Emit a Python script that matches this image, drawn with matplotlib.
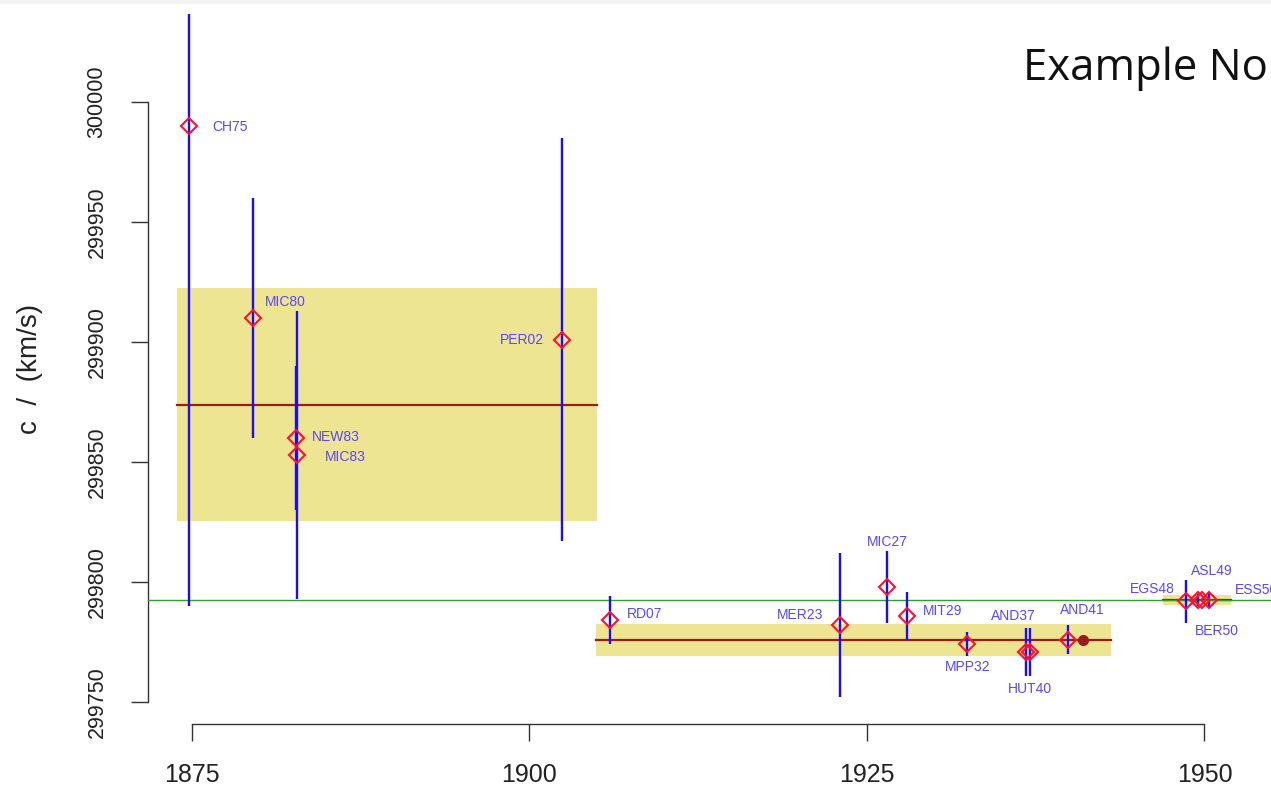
import matplotlib
matplotlib.use("Agg")
import matplotlib.pyplot as plt
import numpy as np
from matplotlib.patches import Rectangle

plt.rcParams['font.family'] = ['Liberation Sans', 'DejaVu Sans']

# ---------------- data ----------------
labels = ["CH75", "MIC80", "NEW83", "MIC83", "PER02", "RD07", "MER23", "MIC27",
          "MIT29", "MPP32", "AND37", "HUT40", "AND41", "EGS48", "ASL49", "BER50", "ESS50"]
years = [1874.8, 1879.5, 1882.7, 1882.8, 1902.4, 1906.0, 1923.0, 1926.5,
         1928.0, 1932.4, 1936.8, 1937.1, 1939.9, 1948.6, 1949.5, 1949.8, 1950.3]
speeds = [299990, 299910, 299860, 299853, 299901, 299784, 299782, 299798,
          299786, 299774, 299771, 299771, 299776, 299792, 299792.4, 299792.7, 299792.5]
errors = [200, 50, 30, 60, 84, 10, 30, 15, 10, 5, 10, 10, 6, 9, 2.4, 0.25, 3]

band_start = [1873.9, 1904.9, 1946.9]
band_end = [1905.0, 1943.1, 1952.0]
band_low = [299825.4, 299769.3, 299790.6]
band_high = [299922.5, 299782.4, 299794.6]
band_mean = [299873.75, 299775.8, 299792.5]

highlight_year = [1941.0]
highlight_speed = [299775.8]

c_true = 299792.458

xticks = [1875, 1900, 1925, 1950]
yticks = [299750, 299800, 299850, 299900, 299950, 300000]

# ---------------- style / layout ----------------
label_offsets = [(41, -1), (33, 16), (40, 1), (48, -2), (-40, 0), (34, 6), (-40, 10),
                 (0, 45), (35, 5), (1, -23), (-13, 36), (0, -37), (14, 30),
                 (-33, 12), (14, 29), (15, -31), (48, 10)]

W, H = 1271, 789
fig = plt.figure(figsize=(W / 100, H / 100), dpi=100)
ax = fig.add_axes([148 / W, 65 / H, 1 - 148 / W, 710 / H])
ax.set_xlim(1871.741, 1954.926)
ax.set_ylim(299740.83, 300036.67)

years_a = np.array(years)
speeds_a = np.array(speeds)
errors_a = np.array(errors)

# bands
for xs, xe, lo, hi, m in zip(band_start, band_end, band_low, band_high, band_mean):
    ax.add_patch(Rectangle((xs, lo), xe - xs, hi - lo, facecolor='#ede592',
                           edgecolor='none', zorder=1))
    ax.plot([xs, xe], [m, m], color='#9b1b1b', lw=1.6, zorder=2)

# true value
ax.axhline(c_true, color='#2ea02e', lw=1.0, zorder=3)

# error bars
ax.vlines(years_a, speeds_a - errors_a, speeds_a + errors_a, color='#1a0aff',
          lw=1.7, zorder=4)

# points
ax.plot(years_a, speeds_a, linestyle='none', marker='D', markersize=8,
        markerfacecolor='none', markeredgecolor='#ff1030', markeredgewidth=1.5, zorder=5)

ax.plot(highlight_year, highlight_speed, linestyle='none', marker='o', markersize=7,
        color='#9b1b1b', zorder=5)

for lab, x, y, (dx, dy) in zip(labels, years, speeds, label_offsets):
    ax.annotate(lab, (x, y), xytext=(dx, dy), textcoords='offset pixels',
                ha='center', va='center', fontsize=10, color='#5a48f0', zorder=6,
                annotation_clip=False)

# axes styling (R-like)
for s in ['top', 'right']:
    ax.spines[s].set_visible(False)
ax.spines['left'].set_bounds(yticks[0], yticks[-1])
ax.spines['bottom'].set_bounds(xticks[0], xticks[-1])
for s in ['left', 'bottom']:
    ax.spines[s].set_color('#333333')
    ax.spines[s].set_linewidth(1.0)
ax.set_xticks(xticks)
ax.set_xticklabels([str(t) for t in xticks])
ax.set_yticks(yticks)
ax.set_yticklabels([str(t) for t in yticks])
ax.tick_params(axis='both', direction='out', length=12.2, width=1.0, color='#333333')
ax.tick_params(axis='x', labelsize=18, pad=16, labelcolor='#222222')
ax.tick_params(axis='y', labelsize=15.5, pad=17, labelcolor='#222222')
for t in ax.get_yticklabels():
    t.set_rotation(90)
    t.set_va('center')
ax.set_facecolor('white')
ax.patch.set_alpha(0)

fig.text(30 / W, 1 - 369 / H, "c  /  (km/s)", rotation=90, ha='center', va='center',
         fontsize=20, color='#222222')

fig.text(1023 / W, 1 - 80 / H, "Example No", fontsize=31.5,
         family=['Open Sans', 'Lato', 'DejaVu Sans'],
         fontweight='normal', ha='left', va='baseline', color='#111111')

fig.patches.append(Rectangle((0, 1 - 4 / H), 1, 4 / H, transform=fig.transFigure,
                             facecolor='#f3f3f3', edgecolor='none'))

fig.savefig("out.png", dpi=100)
